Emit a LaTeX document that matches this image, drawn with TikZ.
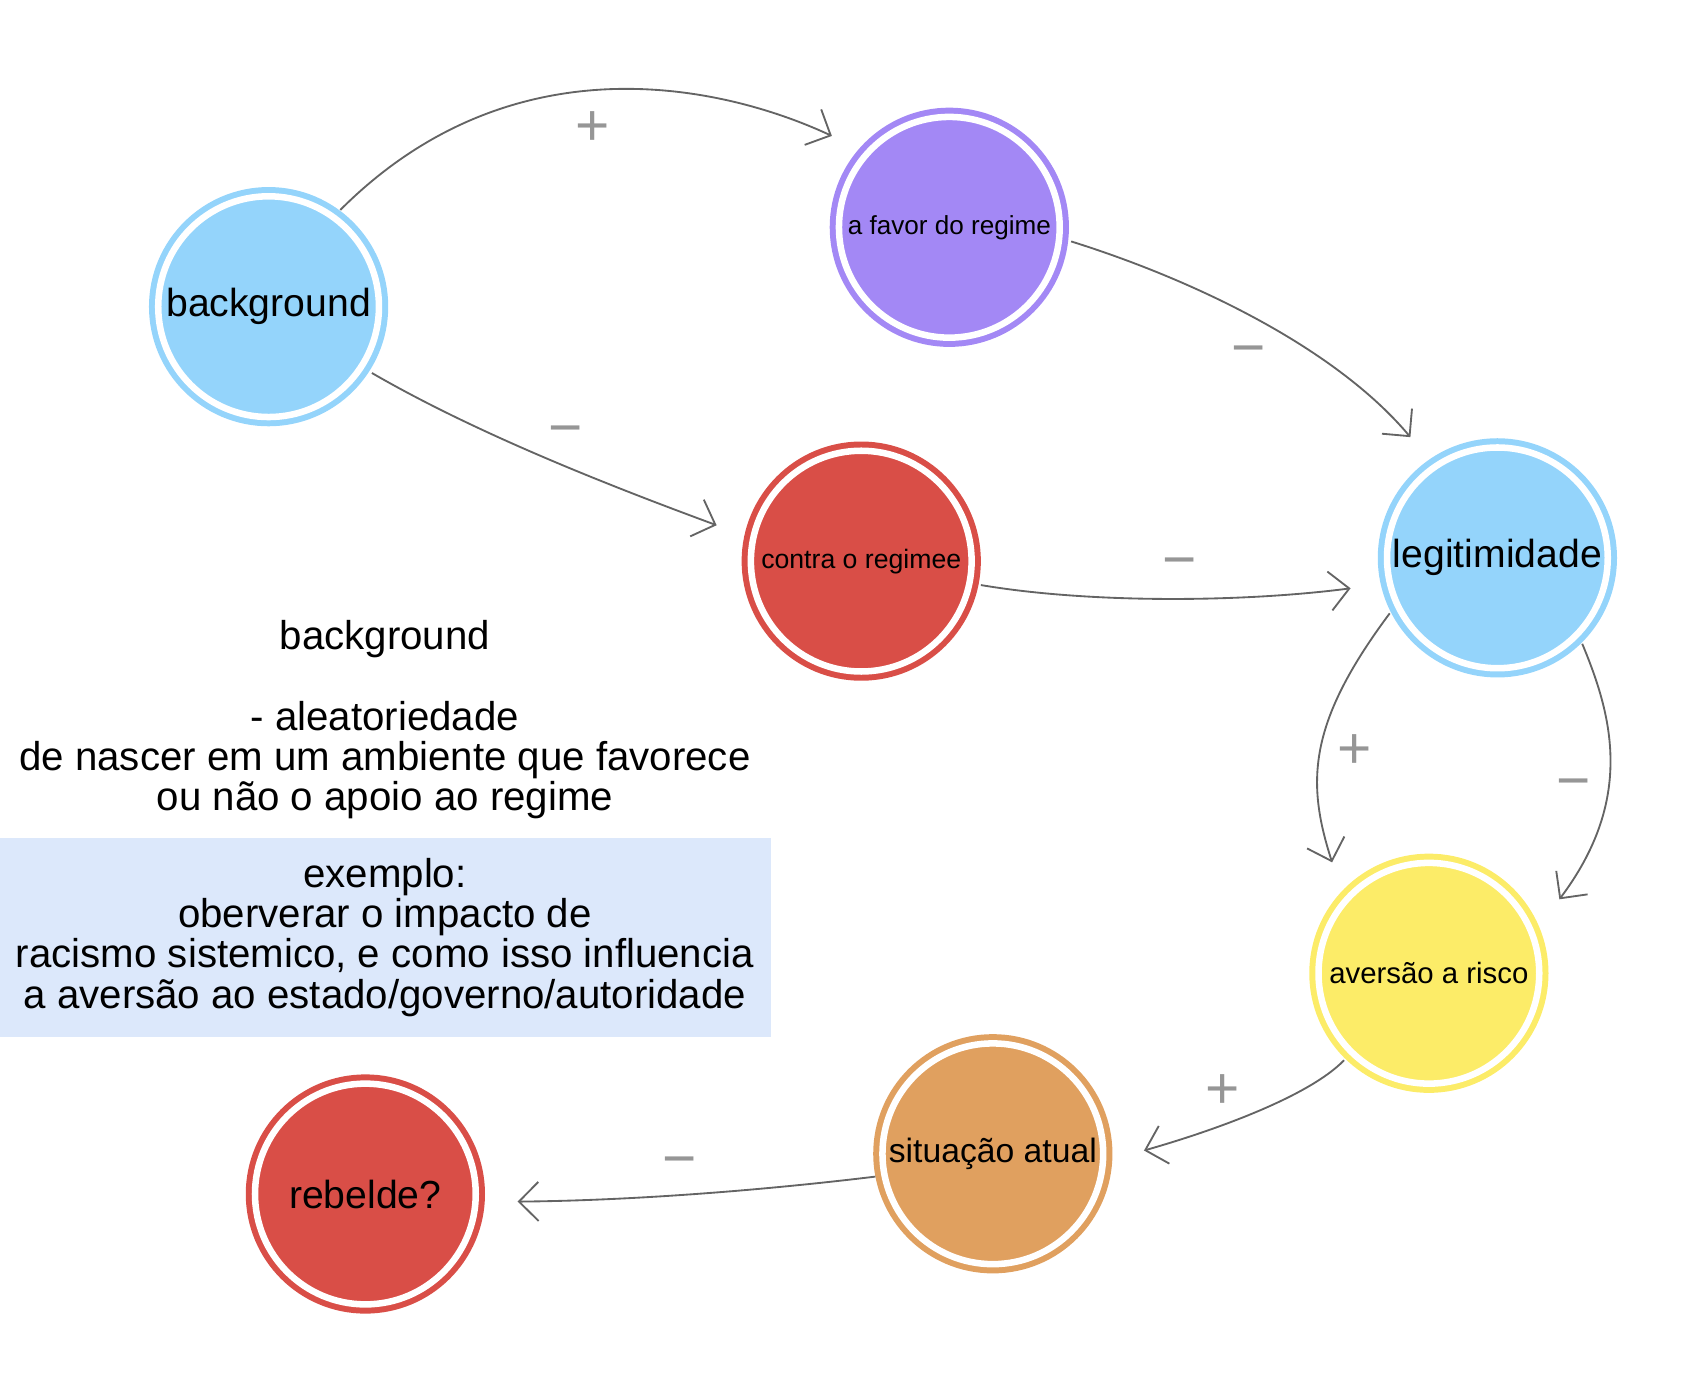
\documentclass[tikz,border=0pt]{standalone}
\usepackage{fontspec}
\setmainfont{Liberation Sans}
\usetikzlibrary{arrows.meta}
\definecolor{lb}{RGB}{148,212,251}
\definecolor{pu}{RGB}{163,136,245}
\definecolor{rd}{RGB}{217,78,71}
\definecolor{ye}{RGB}{252,236,104}
\definecolor{orn}{RGB}{224,160,95}
\definecolor{boxblue}{RGB}{220,232,251}
\definecolor{edgegray}{RGB}{100,100,100}
\definecolor{signgray}{RGB}{150,150,150}
\tikzset{
  ring/.style={circle, minimum size=203pt, inner sep=0pt, outer sep=0pt,
    line width=5.5pt, double distance=6pt, draw=#1, double=white, fill=#1, text=black},
  link/.style={draw=edgegray, line width=1.7pt, -{Straight Barb[length=18pt,width=36pt]}},
  sign/.style={text=signgray, font=\fontsize{54}{54}\selectfont, inner sep=0pt},
  side/.style={align=center, font=\fontsize{37}{37}\selectfont, inner sep=0pt}
}
\begin{document}
\begin{tikzpicture}[x=1pt,y=-1pt]
\useasboundingbox (0,0) rectangle (1567,1285.6);
% nodes
\node[ring=lb, font=\fontsize{36}{40}\selectfont] (bg) at (247,282) {\raisebox{-3pt}{background}};
\node[ring=pu, font=\fontsize{24}{28}\selectfont] (fav) at (873,209) {a favor do regime};
\node[ring=rd, font=\fontsize{24.5}{28}\selectfont] (con) at (792,516) {contra o regimee};
\node[ring=lb, font=\fontsize{36}{40}\selectfont] (leg) at (1377,513) {\raisebox{-3pt}{legitimidade}};
\node[ring=ye, font=\fontsize{27}{30}\selectfont] (ave) at (1314,895) {aversão a risco};
\node[ring=orn, font=\fontsize{31}{34}\selectfont] (sit) at (913,1061) {situação atual};
\node[ring=rd, font=\fontsize{36}{40}\selectfont] (reb) at (336,1098) {rebelde?};
% side text
\node[side] (txt) at (354,662) {background\\[37pt]- aleatoriedade\\de nascer em um ambiente que favorece\\ou não o apoio ao regime};
\fill[boxblue] (0,771) rectangle (709,954);
\node[side] (ex) at (354,862) {exemplo:\\oberverar o impacto de\\racismo sistemico, e como isso influencia\\a aversão ao estado/governo/autoridade};
% edges
\draw[link] ([shift={(66,-89)}]bg.center) .. controls (471,35) and (664,78) .. ([shift={(-108,-84)}]fav.center);
\draw[link] ([shift={(112,13)}]fav.center) .. controls (1103,259) and (1230,322) .. ([shift={(-80,-111)}]leg.center);
\draw[link] ([shift={(95,61)}]bg.center) .. controls (437,398) and (556,445) .. ([shift={(-133,-33)}]con.center);
\draw[link] ([shift={(110,22)}]con.center) .. controls (1002,555) and (1142,554) .. ([shift={(-135,28)}]leg.center);
\draw[link] ([shift={(-99,51)}]leg.center) .. controls (1201,667) and (1202,721) .. ([shift={(-89,-102)}]ave.center);
\draw[link] ([shift={(78,79)}]leg.center) .. controls (1483,659) and (1503,735) .. ([shift={(120,-68)}]ave.center);
\draw[link] ([shift={(-78,80)}]ave.center) .. controls (1201,1011) and (1105,1043) .. ([shift={(139,-3)}]sit.center);
\draw[link] ([shift={(-108,21)}]sit.center) .. controls (706,1094) and (586,1104) .. ([shift={(140,7)}]reb.center);
% signs
\node[sign] (s1) at (545,118) {+};
\node[sign] (s2) at (1148,328) {−};
\node[sign] (s3) at (520,402) {−};
\node[sign] (s4) at (1085,523) {−};
\node[sign] (s5) at (1246,691) {+};
\node[sign] (s6) at (1447,726) {−};
\node[sign] (s7) at (1124,1004) {+};
\node[sign] (s8) at (625,1074) {−};
\end{tikzpicture}
\end{document}
